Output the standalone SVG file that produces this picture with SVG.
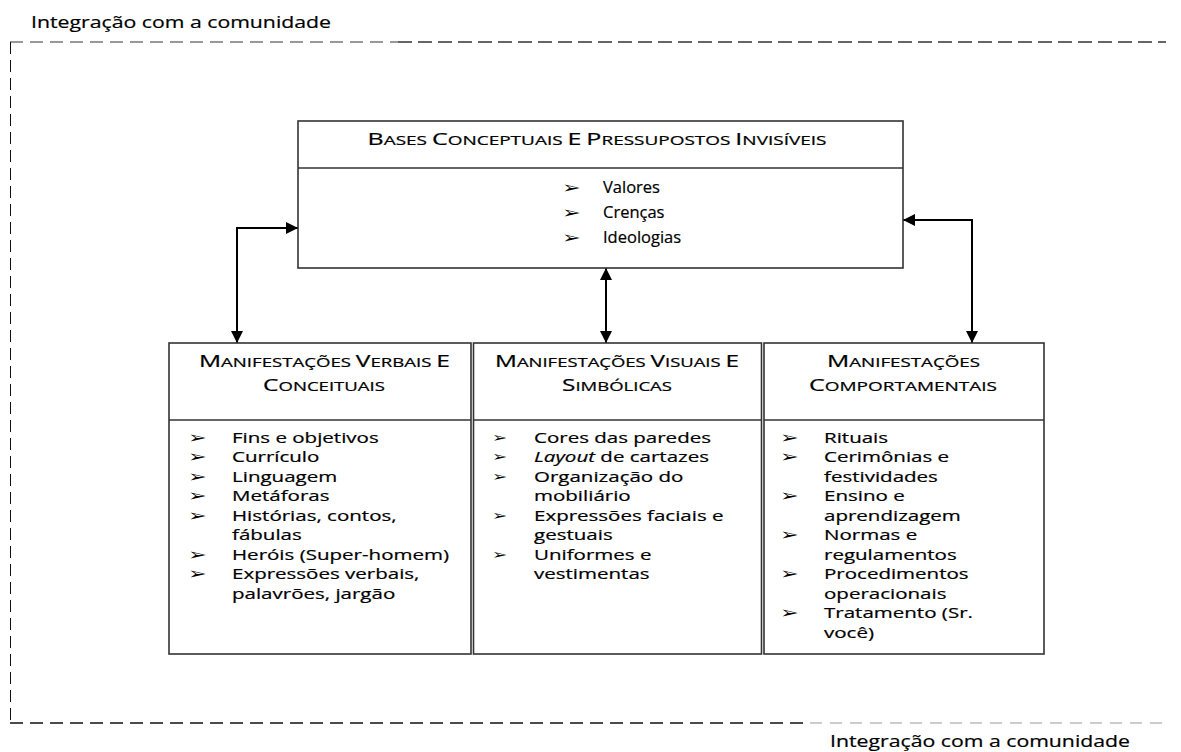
<svg xmlns="http://www.w3.org/2000/svg" width="1181" height="752" viewBox="0 0 1181 752">
<style>
  text { font-family: "Open Sans", "Liberation Sans", sans-serif; fill: #000; stroke: #000; stroke-width: 0.2; }
  .lbl { font-size: 16.5px; }
  .B { font-size: 16.5px; }
  .s { font-size: 12.5px; }
  .it { font-size: 15.2px; }
  .tb { font-size: 16.5px; }
  .ar { font-family: "DejaVu Sans", sans-serif; font-size: 16px; stroke-width: 0; }
  .arm { font-family: "DejaVu Sans", sans-serif; font-size: 13px; stroke-width: 0; }
  .box { fill: #fff; stroke: #333; stroke-width: 1.6; }
  .div { stroke: #333; stroke-width: 1.6; }
  .con { fill: none; stroke: #000; stroke-width: 2; }
</style>
<defs>
  <marker id="ah" viewBox="0 0 12 12" refX="12" refY="6" markerWidth="12" markerHeight="12" markerUnits="userSpaceOnUse" orient="auto-start-reverse">
    <path d="M0,0 L12,6 L0,12 Z" fill="#000"/>
  </marker>
</defs>
<rect width="1181" height="752" fill="#fff"/>

<g id="border">
  <line x1="10" y1="42" x2="398" y2="42" stroke="#333" stroke-width="1" stroke-dasharray="13 7"/>
  <line x1="398" y1="42" x2="1166" y2="42" stroke="#666" stroke-width="2" stroke-dasharray="14 6"/>
  <line x1="10.5" y1="42" x2="10.5" y2="723" stroke="#111" stroke-width="1" stroke-dasharray="12 6"/>
  <line x1="10" y1="723" x2="810" y2="723" stroke="#111" stroke-width="1.5" stroke-dasharray="13 7"/>
  <line x1="810" y1="723" x2="1166" y2="723" stroke="#bbb" stroke-width="1.5" stroke-dasharray="12 8"/>
  <text class="lbl" x="31" y="28" textLength="300" lengthAdjust="spacingAndGlyphs">Integração com a comunidade</text>
  <text class="lbl" x="830" y="747" textLength="300" lengthAdjust="spacingAndGlyphs">Integração com a comunidade</text>
</g>

<g id="connectors">
  <path class="con" d="M298,228 H237 V343" marker-start="url(#ah)" marker-end="url(#ah)"/>
  <path class="con" d="M903,220 H972 V343" marker-start="url(#ah)" marker-end="url(#ah)"/>
  <path class="con" d="M606,268 V343" marker-start="url(#ah)" marker-end="url(#ah)"/>
</g>

<g id="node-bases">
  <rect class="box" x="298" y="121" width="605" height="147"/>
  <line class="div" x1="298" y1="168" x2="903" y2="168"/>
  <text x="597" y="145" text-anchor="middle" textLength="459" lengthAdjust="spacingAndGlyphs"><tspan class="B">B</tspan><tspan class="s">ASES </tspan><tspan class="B">C</tspan><tspan class="s">ONCEPTUAIS </tspan><tspan class="B">E</tspan><tspan class="s"> </tspan><tspan class="B">P</tspan><tspan class="s">RESSUPOSTOS </tspan><tspan class="B">I</tspan><tspan class="s">NVISÍVEIS</tspan></text>
  <g transform="scale(1.4,1)">
    <text class="ar" x="401.4" y="193">➢</text>
    <text class="ar" x="401.4" y="218">➢</text>
    <text class="ar" x="401.4" y="243">➢</text>
  </g>
  <text class="tb" x="603" y="193">Valores</text>
  <text class="tb" x="603" y="218">Crenças</text>
  <text class="tb" x="603" y="243">Ideologias</text>
</g>

<g id="node-verbais">
  <rect class="box" x="169" y="343" width="302" height="311"/>
  <line class="div" x1="169" y1="420" x2="471" y2="420"/>
  <text x="324.5" y="367" text-anchor="middle" textLength="251" lengthAdjust="spacingAndGlyphs"><tspan class="B">M</tspan><tspan class="s">ANIFESTAÇÕES </tspan><tspan class="B">V</tspan><tspan class="s">ERBAIS </tspan><tspan class="B">E</tspan></text>
  <text x="324" y="391" text-anchor="middle" textLength="122" lengthAdjust="spacingAndGlyphs"><tspan class="B">C</tspan><tspan class="s">ONCEITUAIS</tspan></text>
  <g transform="scale(1.4,1)">
    <text class="ar" x="134.3" y="443">➢</text>
    <text class="ar" x="134.3" y="462.5">➢</text>
    <text class="ar" x="134.3" y="482">➢</text>
    <text class="ar" x="134.3" y="501.5">➢</text>
    <text class="ar" x="134.3" y="521">➢</text>
    <text class="ar" x="134.3" y="560">➢</text>
    <text class="ar" x="134.3" y="579.5">➢</text>
  </g>
  <g transform="translate(232,0) scale(1.35,1)">
    <text class="it" x="0" y="443">Fins e objetivos</text>
    <text class="it" x="0" y="462.5">Currículo</text>
    <text class="it" x="0" y="482">Linguagem</text>
    <text class="it" x="0" y="501.5">Metáforas</text>
    <text class="it" x="0" y="521">Histórias, contos,</text>
    <text class="it" x="0" y="540.5">fábulas</text>
    <text class="it" x="0" y="560">Heróis (Super-homem)</text>
    <text class="it" x="0" y="579.5">Expressões verbais,</text>
    <text class="it" x="0" y="599">palavrões, jargão</text>
  </g>
</g>

<g id="node-visuais">
  <rect class="box" x="473.5" y="343" width="288" height="311"/>
  <line class="div" x1="473.5" y1="420" x2="761.5" y2="420"/>
  <text x="617" y="367" text-anchor="middle" textLength="244" lengthAdjust="spacingAndGlyphs"><tspan class="B">M</tspan><tspan class="s">ANIFESTAÇÕES </tspan><tspan class="B">V</tspan><tspan class="s">ISUAIS </tspan><tspan class="B">E</tspan></text>
  <text x="617" y="391" text-anchor="middle" textLength="110" lengthAdjust="spacingAndGlyphs"><tspan class="B">S</tspan><tspan class="s">IMBÓLICAS</tspan></text>
  <g transform="scale(1.4,1)">
    <text class="arm" x="351.4" y="442">➢</text>
    <text class="arm" x="351.4" y="461.5">➢</text>
    <text class="arm" x="351.4" y="481">➢</text>
    <text class="arm" x="351.4" y="520">➢</text>
    <text class="arm" x="351.4" y="559">➢</text>
  </g>
  <g transform="translate(534,0) scale(1.35,1)">
    <text class="it" x="0" y="443">Cores das paredes</text>
    <text class="it" x="0" y="462.5"><tspan font-style="italic">Layout</tspan> de cartazes</text>
    <text class="it" x="0" y="482">Organização do</text>
    <text class="it" x="0" y="501.5">mobiliário</text>
    <text class="it" x="0" y="521">Expressões faciais e</text>
    <text class="it" x="0" y="540.5">gestuais</text>
    <text class="it" x="0" y="560">Uniformes e</text>
    <text class="it" x="0" y="579.5">vestimentas</text>
  </g>
</g>

<g id="node-comportamentais">
  <rect class="box" x="764" y="343" width="280" height="311"/>
  <line class="div" x1="764" y1="420" x2="1044" y2="420"/>
  <text x="903.5" y="367" text-anchor="middle" textLength="153" lengthAdjust="spacingAndGlyphs"><tspan class="B">M</tspan><tspan class="s">ANIFESTAÇÕES</tspan></text>
  <text x="903" y="391" text-anchor="middle" textLength="188" lengthAdjust="spacingAndGlyphs"><tspan class="B">C</tspan><tspan class="s">OMPORTAMENTAIS</tspan></text>
  <g transform="scale(1.4,1)">
    <text class="ar" x="557.1" y="443">➢</text>
    <text class="ar" x="557.1" y="462.5">➢</text>
    <text class="ar" x="557.1" y="501.5">➢</text>
    <text class="ar" x="557.1" y="540.5">➢</text>
    <text class="ar" x="557.1" y="579.5">➢</text>
    <text class="ar" x="557.1" y="618.5">➢</text>
  </g>
  <g transform="translate(824,0) scale(1.35,1)">
    <text class="it" x="0" y="443">Rituais</text>
    <text class="it" x="0" y="462.5">Cerimônias e</text>
    <text class="it" x="0" y="482">festividades</text>
    <text class="it" x="0" y="501.5">Ensino e</text>
    <text class="it" x="0" y="521">aprendizagem</text>
    <text class="it" x="0" y="540.5">Normas e</text>
    <text class="it" x="0" y="560">regulamentos</text>
    <text class="it" x="0" y="579.5">Procedimentos</text>
    <text class="it" x="0" y="599">operacionais</text>
    <text class="it" x="0" y="618.5">Tratamento (Sr.</text>
    <text class="it" x="0" y="638">você)</text>
  </g>
</g>
</svg>
